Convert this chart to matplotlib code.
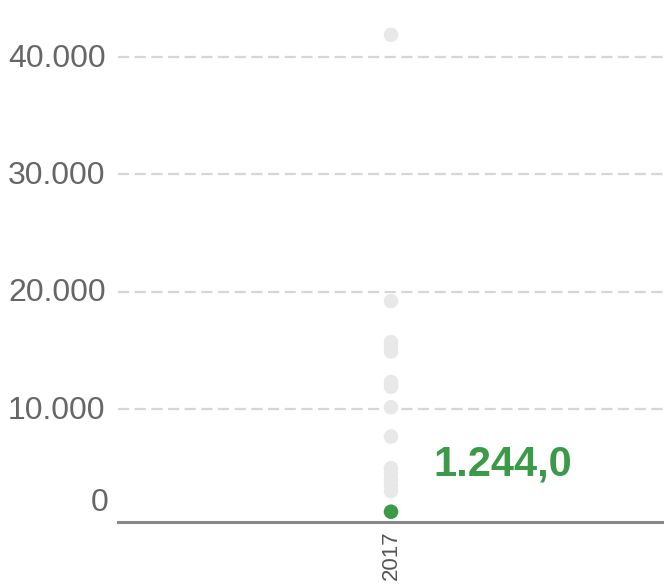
import matplotlib
matplotlib.use("Agg")
import matplotlib.pyplot as plt
from matplotlib.transforms import offset_copy

plt.rcParams['font.family'] = ['Liberation Sans', 'DejaVu Sans']

categories = ["2017"]
other_values = [41900, 19200, 15700, 15300, 14900, 12300, 11900, 10150, 7650,
                4950, 4500, 4000, 3500, 3000]
highlight_value = 1244.0
highlight_label = "1.244,0"
ytick_values = [10000, 20000, 30000, 40000]
ytick_labels = ["10.000", "20.000", "30.000", "40.000"]
zero_label = "0"

fig = plt.figure(figsize=(6.64, 5.86), dpi=100)
ax = fig.add_axes([118/664, 64/586, 1 - 118/664, 522/586])

ax.scatter([0]*len(other_values), other_values, s=110, color="#e8e8e8",
           edgecolors="none", zorder=3, clip_on=False)
ax.scatter([0], [highlight_value], s=110, color="#3a9a48", edgecolors="none",
           zorder=4, clip_on=False)

ax.text(0.155, 5300, highlight_label, color="#3a9a48", fontsize=30, fontweight="bold",
        ha="left", va="center")

ax.set_xlim(-1, 1)
ax.set_ylim(367, 44870)

ax.set_yticks(ytick_values)
ax.set_yticklabels(ytick_labels)
ax.tick_params(axis="y", length=0, pad=9, labelsize=23, labelcolor="#666666")
for lbl in ax.get_yticklabels():
    lbl.set_transform(lbl.get_transform() + matplotlib.transforms.ScaledTranslation(0, 2/100, fig.dpi_scale_trans))
for y in ytick_values:
    ax.axhline(y, color="#d6d6d6", lw=1.6, ls=(0, (5, 2.5)), zorder=1)

tr = offset_copy(ax.get_yaxis_transform(), fig=fig, x=-10, y=23, units="dots")
ax.text(0, 0, zero_label, transform=tr, ha="right", va="center", fontsize=23,
        color="#666666")

ax.set_xticks([0])
ax.set_xticklabels(categories, rotation=90, fontsize=16, color="#555555")
ax.tick_params(axis="x", length=0, pad=6)

for s in ["top", "right", "left"]:
    ax.spines[s].set_visible(False)
ax.spines["bottom"].set_color("#888888")
ax.spines["bottom"].set_linewidth(2.2)

fig.savefig("out.png", dpi=100, facecolor="white")
